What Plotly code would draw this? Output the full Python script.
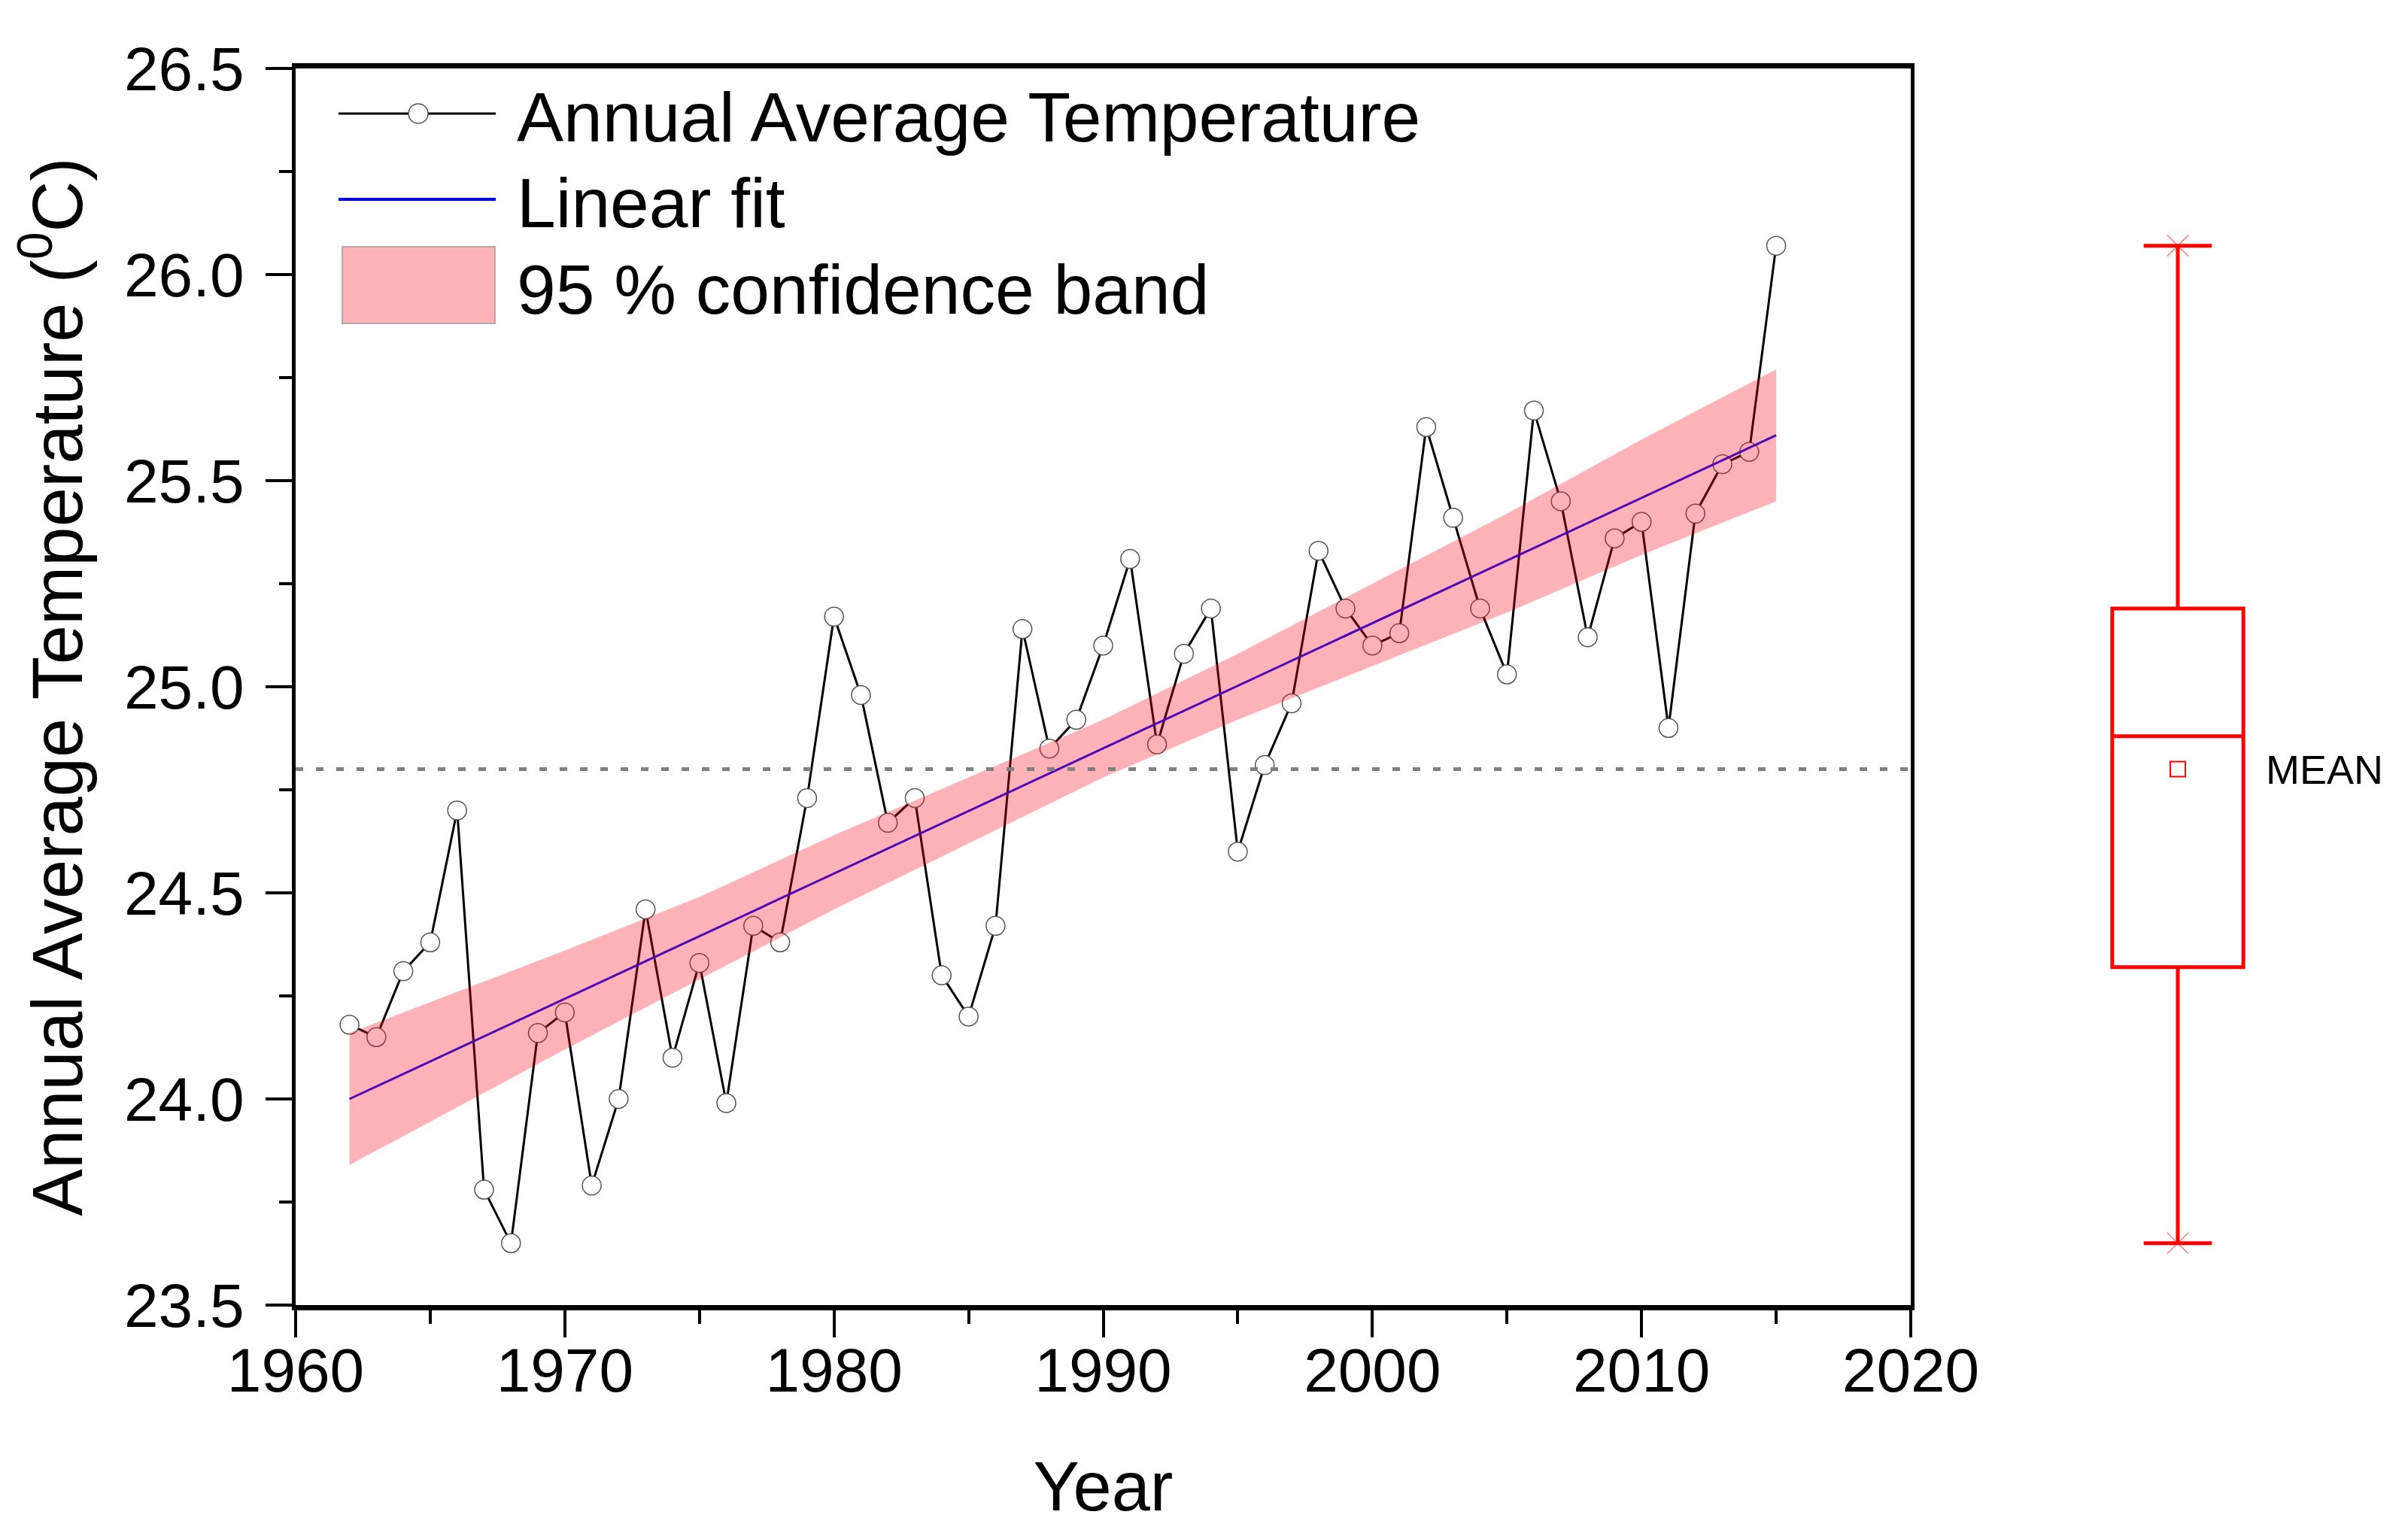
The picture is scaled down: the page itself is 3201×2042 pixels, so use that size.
import plotly.graph_objects as go

# ---- data ----
years = list(range(1962, 2016))
temps = [24.18, 24.15, 24.31, 24.38, 24.70, 23.78, 23.65, 24.16, 24.21, 23.79,
         24.00, 24.46, 24.10, 24.33, 23.99, 24.42, 24.38, 24.73, 25.17, 24.98,
         24.67, 24.73, 24.30, 24.20, 24.42, 25.14, 24.85, 24.92, 25.10, 25.31,
         24.86, 25.08, 25.19, 24.60, 24.81, 24.96, 25.33, 25.19, 25.10, 25.13,
         25.63, 25.41, 25.19, 25.03, 25.67, 25.45, 25.12, 25.36, 25.40, 24.90,
         25.42, 25.54, 25.57, 26.07]

fit_years = [1962, 2015]
fit_temps = [24.00, 25.61]

band_years = [1962, 1966, 1970, 1975, 1980, 1985, 1990, 1995, 2000, 2005, 2010, 2015]
band_lower = [23.84, 23.98, 24.12, 24.29, 24.46, 24.62, 24.78, 24.92, 25.05, 25.18, 25.32, 25.45]
band_upper = [24.16, 24.26, 24.36, 24.49, 24.64, 24.78, 24.92, 25.08, 25.25, 25.42, 25.60, 25.77]

mean_temp = 24.80
box_stats = dict(q1=[24.32], median=[24.88], q3=[25.19],
                 lowerfence=[23.65], upperfence=[26.07])
box_label = "MEAN"

legend_names = ["Annual Average Temperature", "Linear fit", "95 % confidence band"]

x_ticks = [1960, 1970, 1980, 1990, 2000, 2010, 2020]
y_ticks = [23.5, 24.0, 24.5, 25.0, 25.5, 26.0, 26.5]
y_tick_text = ["23.5", "24.0", "24.5", "25.0", "25.5", "26.0", "26.5"]

FONT = "Liberation Sans, Arial, sans-serif"
BAND = "rgba(255,0,20,0.30)"
FIT = "#0000FF"

W, H = 3201, 2042
OFF = 8  # page body margin compensation
L, R, T, B = 393 - OFF, 0, 91 - OFF, 2042 - (1735 - OFF)
pw = W - L - R
ph = H - T - B


def px(x):
    return (x - OFF - L) / pw


def py(y):
    return 1 - (y - OFF - T) / ph


fig = go.Figure()

fig.add_trace(go.Scatter(
    x=years, y=temps, mode="lines+markers", name=legend_names[0],
    line=dict(color="black", width=3),
    marker=dict(symbol="circle", size=25, color="white",
                line=dict(color="#555555", width=1.5)),
    showlegend=False, xaxis="x", yaxis="y"))

fig.add_trace(go.Scatter(
    x=fit_years, y=fit_temps, mode="lines", name=legend_names[1],
    line=dict(color=FIT, width=3), showlegend=False, xaxis="x", yaxis="y"))

fig.add_trace(go.Scatter(
    x=band_years, y=band_lower, mode="lines", line=dict(width=0, color=BAND),
    showlegend=False, hoverinfo="skip", xaxis="x", yaxis="y"))
fig.add_trace(go.Scatter(
    x=band_years, y=band_upper, mode="lines", line=dict(width=0, color=BAND),
    fill="tonexty", fillcolor=BAND, name=legend_names[2],
    showlegend=False, xaxis="x", yaxis="y"))

# box plot on the right
fig.add_trace(go.Box(
    x=[0], **box_stats, width=0.83, whiskerwidth=0.52,
    line=dict(color="#FF0000", width=5), fillcolor="rgba(0,0,0,0)",
    boxpoints=False, showlegend=False, xaxis="x2", yaxis="y"))
fig.add_trace(go.Scatter(
    x=[0], y=[mean_temp], mode="markers",
    marker=dict(symbol="square-open", size=20, color="#FF0000", line=dict(width=2)),
    showlegend=False, xaxis="x2", yaxis="y"))
fig.add_trace(go.Scatter(
    x=[0, 0], y=[box_stats["lowerfence"][0], box_stats["upperfence"][0]], mode="markers",
    marker=dict(symbol="x-thin", size=28, line=dict(width=1.5, color="rgba(255,0,0,0.5)")),
    showlegend=False, xaxis="x2", yaxis="y"))

fig.add_annotation(x=0.548, y=mean_temp, xref="x2", yref="y", text=box_label,
                   showarrow=False, xanchor="left", yanchor="middle",
                   font=dict(family=FONT, size=54, color="black"))

# mean reference line
fig.add_shape(type="line", xref="x domain", x0=0, x1=1, yref="y",
              y0=mean_temp, y1=mean_temp,
              line=dict(color="#808080", width=5, dash="10px,17px"))

# ---- legend (drawn to match the reference's large symbols) ----
fig.add_shape(type="line", xref="paper", yref="paper",
              x0=px(450), x1=px(659), y0=py(151), y1=py(151),
              line=dict(color="black", width=3))
fig.add_shape(type="circle", xref="paper", yref="paper",
              x0=px(543), x1=px(569), y0=py(164), y1=py(138),
              line=dict(color="#555555", width=1.5), fillcolor="white")
fig.add_shape(type="line", xref="paper", yref="paper",
              x0=px(450), x1=px(659), y0=py(265), y1=py(265),
              line=dict(color=FIT, width=4))
fig.add_shape(type="rect", xref="paper", yref="paper",
              x0=px(455), x1=px(658), y0=py(430), y1=py(328),
              line=dict(color="rgba(150,150,150,0.7)", width=2), fillcolor=BAND)
for name, yc in zip(legend_names, [156, 270, 385]):
    fig.add_annotation(x=px(685), y=py(yc), xref="paper", yref="paper", text=name,
                       showarrow=False, xanchor="left", yanchor="middle",
                       font=dict(family=FONT, size=93, color="black"))

fig.update_layout(
    width=W, height=H, autosize=False,
    margin=dict(l=L, r=R, t=T, b=B, autoexpand=False),
    paper_bgcolor="white", plot_bgcolor="white",
    font=dict(family=FONT, color="black"),
    showlegend=False,
    xaxis=dict(domain=[0, px(2540)], range=[1960, 2020], tickvals=x_ticks,
               automargin=False,
               ticks="outside", ticklen=36, tickwidth=4, tickcolor="black",
               minor=dict(dtick=5, ticks="outside", ticklen=18, tickwidth=4, tickcolor="black"),
               showline=True, linewidth=7, linecolor="black", mirror=True,
               showgrid=False, zeroline=False, ticklabelstandoff=-26,
               tickfont=dict(family=FONT, size=82),
               title=dict(text="Year", font=dict(family=FONT, size=92), standoff=80)),
    yaxis=dict(range=[23.5, 26.5], tickvals=y_ticks, ticktext=y_tick_text,
               automargin=False,
               ticks="outside", ticklen=35, tickwidth=4, tickcolor="black",
               minor=dict(dtick=0.25, ticks="outside", ticklen=17, tickwidth=4, tickcolor="black"),
               showline=True, linewidth=5, linecolor="black", mirror=True,
               showgrid=False, zeroline=False, ticklabelstandoff=12,
               tickfont=dict(family=FONT, size=82),
               title=dict(text="Annual Average Temperature (<sup>0</sup>C)",
                          font=dict(family=FONT, size=94), standoff=26)),
    xaxis2=dict(domain=[px(2685), px(3105)], range=[-1, 1], automargin=False,
                visible=False, anchor="y", showgrid=False, zeroline=False),
)

fig.write_html("out.html")
